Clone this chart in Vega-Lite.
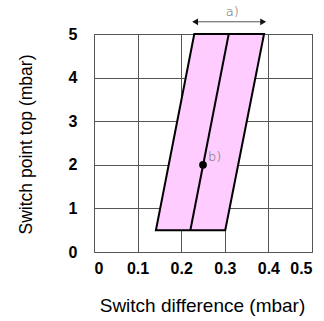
{
  "$schema": "https://vega.github.io/schema/vega-lite/v6.json",
  "width": 218,
  "height": 218,
  "autosize": "none",
  "padding": {"left": 94, "top": 34, "right": 12, "bottom": 69},
  "background": "white",
  "config": {
    "view": {"stroke": "#555", "strokeWidth": 1},
    "font": "Liberation Sans"
  },
  "datasets": {
    "band": [
      {"y": 0.5, "xl": 0.142, "xr": 0.301},
      {"y": 5, "xl": 0.23, "xr": 0.39}
    ],
    "mid": [
      {"x": 0.221, "y": 0.5},
      {"x": 0.309, "y": 5}
    ],
    "pt": [{"x": 0.25, "y": 2, "label": "b)"}],
    "arrow": [{"x": 0.228, "x2": 0.392, "y": 5.28}],
    "heads": [
      {"x": 0.232, "y": 5.28, "dir": "left"},
      {"x": 0.388, "y": 5.28, "dir": "right"}
    ],
    "alabel": [{"x": 0.317, "y": 5.5, "label": "a)"}]
  },
  "layer": [
    {
      "data": {"name": "band"},
      "mark": {"type": "area", "orient": "horizontal", "fill": "#ffccff", "stroke": "black", "strokeWidth": 2, "opacity": 1},
      "encoding": {
        "y": {
          "field": "y", "type": "quantitative",
          "scale": {"domain": [0, 5], "nice": false, "zero": false},
          "axis": {
            "values": [0, 0.5, 1, 1.5, 2, 2.5, 3, 3.5, 4, 4.5, 5],
            "labelExpr": "round(datum.value*2) % 2 == 0 ? datum.label : ''",
            "format": "~g",
            "grid": true, "gridColor": "#555", "gridWidth": 1, "gridOpacity": 1,
            "domain": false, "ticks": false,
            "labelFont": "Liberation Sans", "labelFontSize": 16, "labelFontWeight": "bold", "labelColor": "black",
            "labelPadding": 17,
            "title": "Switch point top (mbar)",
            "titleFont": "Liberation Sans", "titleFontSize": 17.5, "titleFontWeight": "normal", "titleColor": "black",
            "titleX": -68, "titleY": 110, "titleAngle": -90, "titleBaseline": "middle", "titleAlign": "center"
          }
        },
        "x": {
          "field": "xl", "type": "quantitative",
          "scale": {"domain": [0, 0.5], "nice": false, "zero": false},
          "axis": {
            "values": [0, 0.05, 0.1, 0.15, 0.2, 0.25, 0.3, 0.35, 0.4, 0.45, 0.5],
            "labelExpr": "round(datum.value*20) % 2 == 0 ? datum.label : ''",
            "format": ".1~f",
            "grid": true, "gridColor": "#555", "gridWidth": 1, "gridOpacity": 1,
            "domain": false, "ticks": false,
            "labelFont": "Liberation Sans", "labelFontSize": 16, "labelFontWeight": "bold", "labelColor": "black",
            "labelPadding": 8,
            "title": "Switch difference (mbar)",
            "titleFont": "Liberation Sans", "titleFontSize": 19, "titleFontWeight": "normal", "titleColor": "black",
            "titleX": 108, "titleY": 53, "titleBaseline": "middle", "titleAlign": "center"
          }
        },
        "x2": {"field": "xr"}
      }
    },
    {
      "data": {"name": "mid"},
      "mark": {"type": "line", "color": "black", "strokeWidth": 2},
      "encoding": {
        "x": {"field": "x", "type": "quantitative"},
        "y": {"field": "y", "type": "quantitative"}
      }
    },
    {
      "data": {"name": "pt"},
      "mark": {"type": "point", "filled": true, "color": "black", "size": 60, "opacity": 1},
      "encoding": {
        "x": {"field": "x", "type": "quantitative"},
        "y": {"field": "y", "type": "quantitative"}
      }
    },
    {
      "data": {"name": "pt"},
      "mark": {"type": "text", "align": "left", "baseline": "middle", "dx": 5, "dy": -8, "fontSize": 13, "color": "#666", "font": "DejaVu Sans", "fontWeight": 200},
      "encoding": {
        "x": {"field": "x", "type": "quantitative"},
        "y": {"field": "y", "type": "quantitative"},
        "text": {"field": "label"}
      }
    },
    {
      "data": {"name": "arrow"},
      "mark": {"type": "rule", "color": "#555", "strokeWidth": 1},
      "encoding": {
        "x": {"field": "x", "type": "quantitative"},
        "x2": {"field": "x2"},
        "y": {"field": "y", "type": "quantitative"}
      }
    },
    {
      "data": {"name": "heads"},
      "mark": {"type": "point", "filled": true, "color": "#111", "size": 45, "opacity": 1},
      "encoding": {
        "x": {"field": "x", "type": "quantitative"},
        "y": {"field": "y", "type": "quantitative"},
        "shape": {"field": "dir", "type": "nominal", "scale": {"domain": ["left", "right"], "range": ["triangle-left", "triangle-right"]}, "legend": null}
      }
    },
    {
      "data": {"name": "alabel"},
      "mark": {"type": "text", "align": "center", "baseline": "middle", "fontSize": 13, "color": "#666", "font": "DejaVu Sans", "fontWeight": 200},
      "encoding": {
        "x": {"field": "x", "type": "quantitative"},
        "y": {"field": "y", "type": "quantitative"},
        "text": {"field": "label"}
      }
    }
  ]
}
